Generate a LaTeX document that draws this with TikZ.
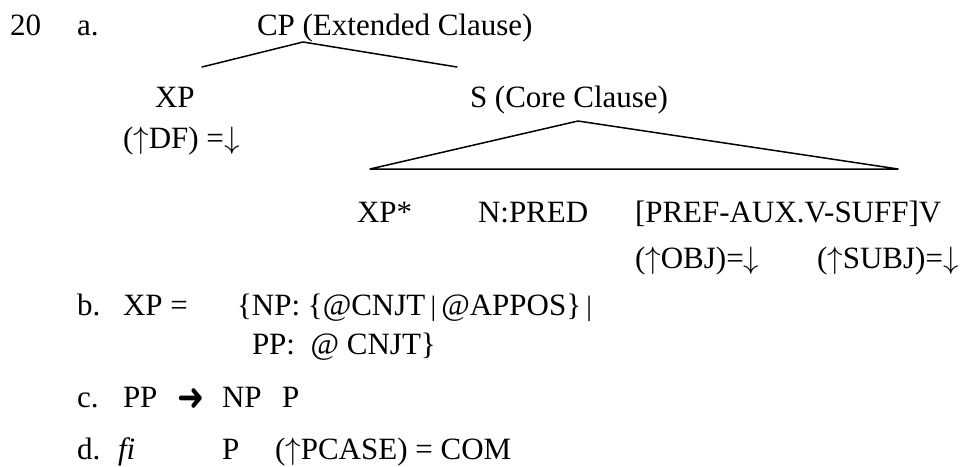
\documentclass[tikz,border=0pt]{standalone}
\usepackage{amsmath}
\usepackage{graphicx}
\usepackage{fontspec}
\setmainfont{Liberation Serif}
\newfontfamily\symfont{DejaVu Sans}
\newcommand{\upar}{{\fontsize{10}{10}\selectfont\scalebox{3.1}{$\uparrow$}}}
\newcommand{\dnar}{{\fontsize{10}{10}\selectfont\scalebox{3.1}{$\downarrow$}}}
\newcommand{\boldarr}{{\symfont\fontsize{24}{24}\selectfont\scalebox{1.35}[1.6]{➜}}}
\newcommand{\sbar}{\,{\fontsize{28}{28}\selectfont |}\,}
\begin{document}
\begin{tikzpicture}[x=1pt,y=-1pt,
  txt/.style={anchor=base west,inner sep=0pt,outer sep=0pt,font=\fontsize{31}{31}\selectfont},
  branch/.style={line width=1.5pt,line cap=round,line join=round}]
\useasboundingbox (0,0) rectangle (968,466);
% labels
\node[txt] (num) at (10,35) {20};
\node[txt] (la) at (77,35) {a.};
\node[txt] (cp) at (257,35) {CP (Extended Clause)};
\node[txt] (xp) at (155,107) {XP};
\node[txt] (df) at (123,148) {(\upar DF) =\dnar};
\node[txt] (s) at (470,107) {S (Core Clause)};
\node[txt] (xps) at (357,222) {XP*};
\node[txt] (npred) at (478,222) {N:PRED};
\node[txt] (verb) at (635,222) {[PREF-AUX.V-SUFF]V};
\node[txt] (obj) at (635,268) {(\upar OBJ)=\dnar};
\node[txt] (subj) at (817,268) {(\upar SUBJ)=\dnar};
% tree lines
\coordinate (cpA) at (303,42);
\coordinate (cpL) at (202,67);
\coordinate (cpR) at (457,67);
\coordinate (sA) at (578,121);
\coordinate (sL) at (370,169);
\coordinate (sR) at (898,169);
\draw[branch] (cpL) -- (cpA) -- (cpR);
\draw[branch] (sL) -- (sA) -- (sR) -- cycle;
% b
\node[txt] (lb) at (77,315) {b.};
\node[txt] (bxp) at (123,315) {XP =};
\node[txt] (bnp) at (237,315) {\{NP: \{@CNJT\sbar @APPOS\}\sbar};
\node[txt] (bpp) at (252,354) {PP:\ \ @ CNJT\}};
% c
\node[txt] (lc) at (77,407) {c.};
\node[txt] (cpp) at (123,407) {PP};
\node[txt] (carr) at (177,410) {\boldarr};
\node[txt] (cnp) at (222,407) {NP};
\node[txt] (cp2) at (282,407) {P};
% d
\node[txt] (ld) at (77,459) {d.};
\node[txt] (dfi) at (118,459) {\itshape fi};
\node[txt] (dp) at (222,459) {P};
\node[txt] (dcase) at (275,459) {(\upar PCASE) = COM};
\end{tikzpicture}
\end{document}
